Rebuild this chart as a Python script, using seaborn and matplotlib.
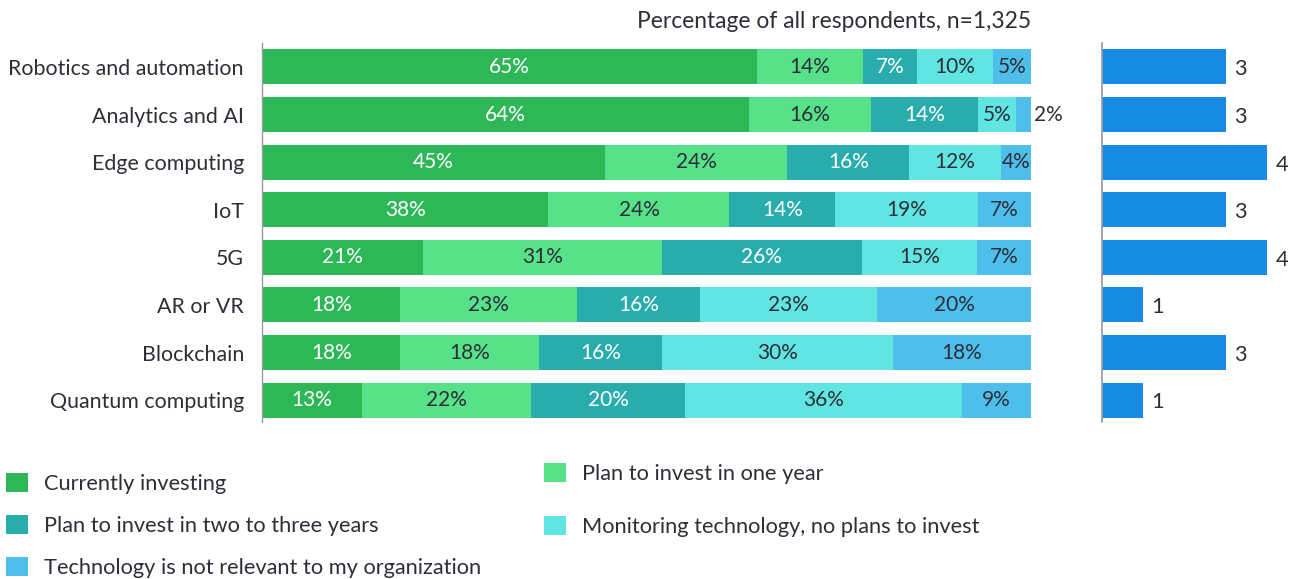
import matplotlib
matplotlib.use("Agg")
import matplotlib.pyplot as plt
from matplotlib.patches import Patch
import seaborn as sns
import pandas as pd
import numpy as np

# Chart data
technologies = ["Robotics and automation", "Analytics and AI", "Edge computing", "IoT",
                "5G", "AR or VR", "Blockchain", "Quantum computing"]
statuses = ["Currently investing", "Plan to invest in one year",
            "Plan to invest in two to three years",
            "Monitoring technology, no plans to invest",
            "Technology is not relevant to my organization"]
currently = [65, 64, 45, 38, 21, 18, 18, 13]
one_year = [14, 16, 24, 24, 31, 23, 18, 22]
two_three = [7, 14, 16, 14, 26, 16, 16, 20]
monitoring = [10, 5, 12, 19, 15, 23, 30, 36]
not_relevant = [5, 2, 4, 7, 7, 20, 18, 9]
rank_values = [3, 3, 4, 3, 4, 1, 3, 1]

colors = ["#2db757", "#57e28a", "#28acac", "#60e5e2", "#4ebeeb"]
label_colors = ["white", "#2e2e38", "white", "#2e2e38", "#2e2e38"]
rank_color = "#188ce5"
text_color = "#2e2e38"
axis_color = "#9a9aa2"

sns.set_theme(style="white")
plt.rcParams["font.family"] = ["Lato", "DejaVu Sans"]

series = np.array([currently, one_year, two_three, monitoring, not_relevant], dtype=float)
# bars are drawn to a common full width
shares = series / series.sum(axis=0) * 100
cum = shares.cumsum(axis=0)

fig = plt.figure(figsize=(13, 5.79), dpi=100)
ax = fig.add_axes([262 / 1300, 1 - 422 / 579, 769 / 1300, 379 / 579])
ax2 = fig.add_axes([1102 / 1300, 1 - 422 / 579, 198 / 1300, 379 / 579])

bar_w = 0.735
# layered cumulative bars, widest first
for i in range(len(statuses) - 1, -1, -1):
    df = pd.DataFrame({"tech": technologies, "cum": cum[i]})
    sns.barplot(data=df, x="cum", y="tech", orient="h", color=colors[i],
                width=bar_w, saturation=1, linewidth=0, ax=ax)

for i in range(len(statuses)):
    for j, tech in enumerate(technologies):
        left = cum[i][j] - shares[i][j]
        mid = left + shares[i][j] / 2
        txt = f"{int(series[i][j])}%"
        if shares[i][j] < 3:
            ax.text(cum[i][j] + 2.2, j, txt, ha="center", va="center",
                    fontsize=15, color=text_color)
        else:
            ax.text(mid, j, txt, ha="center", va="center", fontsize=15,
                    color=label_colors[i])

ax.set_xlim(0, 100)
ax.set_ylim(7.46, -0.504)
ax.set_xlabel("")
ax.set_ylabel("")
ax.set_xticks([])
ax.tick_params(axis="y", length=0, pad=13, labelsize=15.4, labelcolor=text_color)
for s in ["top", "right", "bottom"]:
    ax.spines[s].set_visible(False)
ax.spines["left"].set_color(axis_color)
ax.spines["left"].set_linewidth(1)

# right panel
rdf = pd.DataFrame({"tech": technologies, "value": rank_values})
sns.barplot(data=rdf, x="value", y="tech", orient="h", color=rank_color,
            width=bar_w, saturation=1, linewidth=0, ax=ax2)
for j, v in enumerate(rank_values):
    ax2.text(v + 0.35, j + 0.05, str(v), ha="center", va="center", fontsize=15.7,
             color=text_color)
ax2.set_xlim(0, 198 / 41.3)
ax2.set_ylim(7.46, -0.504)
ax2.set_xlabel("")
ax2.set_ylabel("")
ax2.set_xticks([])
ax2.set_yticks([])
for s in ["top", "right", "bottom"]:
    ax2.spines[s].set_visible(False)
ax2.spines["left"].set_color(axis_color)

fig.text(1031 / 1300, 1 - 21 / 579, "Percentage of all respondents, n=1,325",
         ha="right", va="center", fontsize=16.4, color=text_color)

# legends
handles = [Patch(facecolor=c, edgecolor="none") for c in colors]
leg1 = fig.legend([handles[0], handles[2], handles[4]],
                  [statuses[0], statuses[2], statuses[4]],
                  loc="upper left", bbox_to_anchor=(-0.002, 1 - 464 / 579),
                  frameon=False, fontsize=15.7, handlelength=1.0, handleheight=1.0,
                  handletextpad=0.75, labelspacing=0.95, borderaxespad=0)
for t in leg1.get_texts():
    t.set_color(text_color)
leg2 = fig.legend([handles[1], handles[3]], [statuses[1], statuses[3]],
                  loc="upper left", bbox_to_anchor=(535 / 1300, 1 - 454 / 579),
                  frameon=False, fontsize=15.7, handlelength=1.0, handleheight=1.0,
                  handletextpad=0.75, labelspacing=1.45, borderaxespad=0)
for t in leg2.get_texts():
    t.set_color(text_color)

fig.savefig("out.png", dpi=100)
